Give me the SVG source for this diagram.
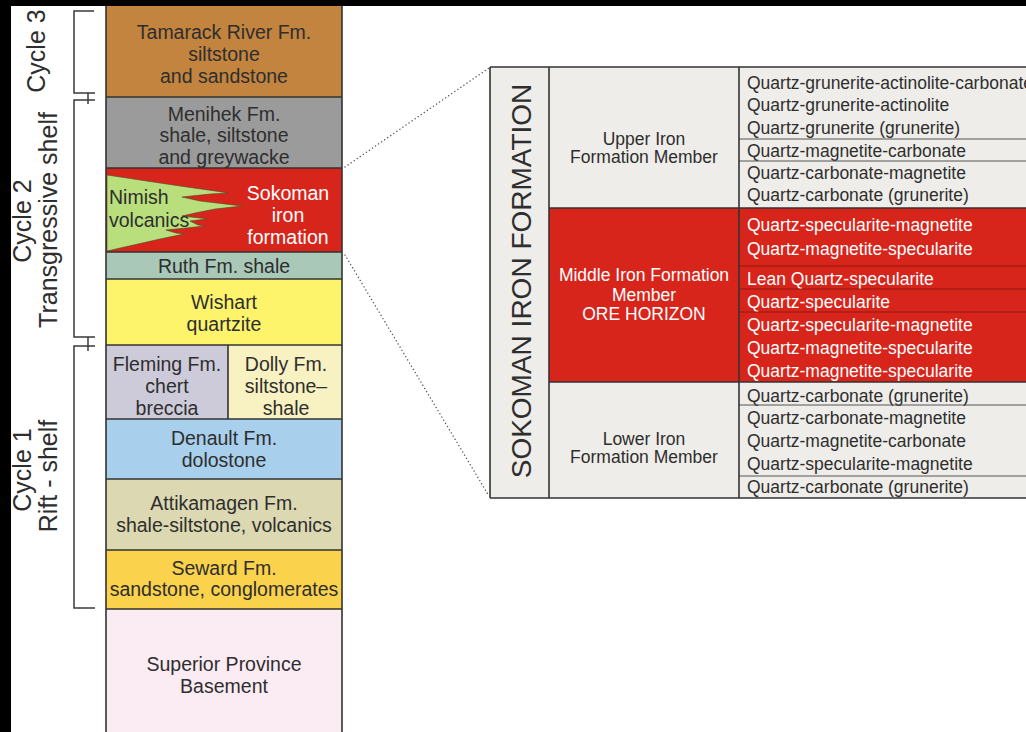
<svg xmlns="http://www.w3.org/2000/svg" width="1026" height="732" viewBox="0 0 1026 732">
  <defs>
    <style>
      text { font-family: "Liberation Sans", Arial, sans-serif; }
      .col { font-size: 19.5px; fill: #2e2e2e; text-anchor: middle; }
      .colw { font-size: 19.5px; fill: #ffffff; text-anchor: middle; }
      .coll { font-size: 19.5px; fill: #2e2e2e; text-anchor: start; }
      .cyc { font-size: 25px; fill: #2e2e2e; text-anchor: middle; }
      .row { font-size: 17.5px; fill: #2e2e2e; }
      .roww { font-size: 17.5px; fill: #ffffff; }
      .mem { font-size: 17.5px; fill: #2e2e2e; text-anchor: middle; }
      .memw { font-size: 17.5px; fill: #ffffff; text-anchor: middle; }
      .title { font-size: 28px; fill: #2e2e2e; text-anchor: middle; }
      .edge { stroke: #333333; stroke-width: 1.6; fill: none; }
      .thin { stroke: #555555; stroke-width: 1; fill: none; }
      .thinr { stroke: #8e1a12; stroke-width: 1; fill: none; }
      .brk { stroke: #3a3a3a; stroke-width: 1.5; fill: none; }
      .dot { stroke: #555555; stroke-width: 1.4; stroke-dasharray: 0.1 3.6; stroke-linecap: round; fill: none; }
    </style>
  </defs>

  <!-- page -->
  <rect x="0" y="0" width="1026" height="732" fill="#ffffff"/>
  <rect x="0" y="0" width="1026" height="6" fill="#000000"/>
  <rect x="0" y="0" width="11" height="732" fill="#000000"/>

  <!-- cycle brackets and labels -->
  <g id="brackets">
    <path class="brk" d="M94,11 H74 V93 H95"/>
    <path class="brk" d="M95,100 H74 V337 H95"/>
    <path class="brk" d="M95,346 H74 V608 H95"/>
    <path class="brk" d="M88,93 V104"/>
    <path class="brk" d="M88,337 V351"/>
  </g>
  <g id="cycle3">
    <text class="cyc" transform="translate(45,51) rotate(-90)">Cycle 3</text>
  </g>
  <g id="cycle2">
    <text class="cyc" transform="translate(31,221) rotate(-90)">Cycle 2</text>
    <text class="cyc" transform="translate(57,220) rotate(-90)">Transgressive shelf</text>
  </g>
  <g id="cycle1">
    <text class="cyc" transform="translate(31,470) rotate(-90)">Cycle 1</text>
    <text class="cyc" transform="translate(57,476) rotate(-90)">Rift - shelf</text>
  </g>

  <!-- stratigraphic column -->
  <g id="tamarack">
    <rect x="106" y="6" width="236" height="91" fill="#c2843f"/>
    <text class="col" x="224" y="39">Tamarack River Fm.</text>
    <text class="col" x="224" y="61">siltstone</text>
    <text class="col" x="224" y="83">and sandstone</text>
  </g>
  <g id="menihek">
    <rect x="106" y="97" width="236" height="71" fill="#9b9b9b"/>
    <text class="col" x="224" y="121">Menihek Fm.</text>
    <text class="col" x="224" y="142">shale, siltstone</text>
    <text class="col" x="224" y="164">and greywacke</text>
  </g>
  <g id="sokoman">
    <rect x="106" y="168" width="236" height="84" fill="#d8251c"/>
    <text class="colw" x="288" y="200">Sokoman</text>
    <text class="colw" x="288" y="222">iron</text>
    <text class="colw" x="288" y="244">formation</text>
  </g>
  <g id="nimish">
    <path fill="#b9df7c" stroke="#4a4a2a" stroke-width="0.6" d="M107,175 L140,180 L180,186 L215,191 L228,193 L210,194 L182,197 L200,201 L225,204 L242,206 L215,209 L195,213 L182,216 L200,218 L207,219 L190,221 L198,225 L205,226 L186,228 L166,230 L176,233 L184,234 L160,239 L107,251 Z"/>
    <text class="coll" x="109" y="204">Nimish</text>
    <text class="coll" x="109" y="227">volcanics</text>
  </g>
  <g id="ruth">
    <rect x="106" y="252" width="236" height="27" fill="#a9c8b8"/>
    <text class="col" x="224" y="273">Ruth Fm. shale</text>
  </g>
  <g id="wishart">
    <rect x="106" y="279" width="236" height="66" fill="#fdf46c"/>
    <text class="col" x="224" y="309">Wishart</text>
    <text class="col" x="224" y="331">quartzite</text>
  </g>
  <g id="fleming">
    <rect x="106" y="345" width="122" height="74" fill="#cdcbd9"/>
    <text class="col" x="167" y="371">Fleming Fm.</text>
    <text class="col" x="167" y="393">chert</text>
    <text class="col" x="167" y="415">breccia</text>
  </g>
  <g id="dolly">
    <rect x="228" y="345" width="114" height="74" fill="#f8f1c2"/>
    <text class="col" x="286" y="371">Dolly Fm.</text>
    <text class="col" x="286" y="393">siltstone–</text>
    <text class="col" x="286" y="415">shale</text>
  </g>
  <g id="denault">
    <rect x="106" y="419" width="236" height="60" fill="#a8cfec"/>
    <text class="col" x="224" y="445">Denault Fm.</text>
    <text class="col" x="224" y="467">dolostone</text>
  </g>
  <g id="attikamagen">
    <rect x="106" y="479" width="236" height="71" fill="#dcd9b2"/>
    <text class="col" x="224" y="510">Attikamagen Fm.</text>
    <text class="col" x="224" y="532">shale-siltstone, volcanics</text>
  </g>
  <g id="seward">
    <rect x="106" y="550" width="236" height="59" fill="#fbd24c"/>
    <text class="col" x="224" y="575">Seward Fm.</text>
    <text class="col" x="224" y="596">sandstone, conglomerates</text>
  </g>
  <g id="superior">
    <rect x="106" y="609" width="236" height="130" fill="#fbebf3"/>
    <text class="col" x="224" y="671">Superior Province</text>
    <text class="col" x="224" y="693">Basement</text>
  </g>
  <g id="column-lines">
    <path class="edge" d="M106,6 V740 M342,6 V740 M106,97 H342 M106,168 H342 M106,252 H342 M106,279 H342 M106,345 H342 M228,345 V419 M106,419 H342 M106,479 H342 M106,550 H342 M106,609 H342"/>
  </g>

  <!-- dotted connectors from the Sokoman interval to the detail table -->
  <g id="connectors">
    <line class="dot" x1="345" y1="167" x2="489" y2="68"/>
    <line class="dot" x1="345" y1="255" x2="489" y2="496"/>
  </g>

  <!-- Sokoman Iron Formation detail table -->
  <g id="table-frame">
    <rect x="490" y="67" width="560" height="431" fill="#eeede9"/>
    <rect x="549" y="208" width="500" height="174" fill="#d8251c"/>
  </g>
  <g id="title">
    <text class="title" transform="translate(531,281) rotate(-90)">SOKOMAN IRON FORMATION</text>
  </g>
  <g id="upper-member">
    <text class="mem" x="644" y="145">Upper Iron</text>
    <text class="mem" x="644" y="163">Formation Member</text>
    <text class="row" x="747" y="89">Quartz-grunerite-actinolite-carbonate</text>
    <text class="row" x="747" y="111">Quartz-grunerite-actinolite</text>
    <text class="row" x="747" y="134">Quartz-grunerite (grunerite)</text>
    <text class="row" x="747" y="157">Quartz-magnetite-carbonate</text>
    <text class="row" x="747" y="179">Quartz-carbonate-magnetite</text>
    <text class="row" x="747" y="201">Quartz-carbonate (grunerite)</text>
  </g>
  <g id="middle-member">
    <text class="memw" x="644" y="281">Middle Iron Formation</text>
    <text class="memw" x="644" y="301">Member</text>
    <text class="memw" x="644" y="320">ORE HORIZON</text>
    <text class="roww" x="747" y="231">Quartz-specularite-magnetite</text>
    <text class="roww" x="747" y="255">Quartz-magnetite-specularite</text>
    <text class="roww" x="747" y="285">Lean Quartz-specularite</text>
    <text class="roww" x="747" y="308">Quartz-specularite</text>
    <text class="roww" x="747" y="331">Quartz-specularite-magnetite</text>
    <text class="roww" x="747" y="354">Quartz-magnetite-specularite</text>
    <text class="roww" x="747" y="377">Quartz-magnetite-specularite</text>
  </g>
  <g id="lower-member">
    <text class="mem" x="644" y="445">Lower Iron</text>
    <text class="mem" x="644" y="463">Formation Member</text>
    <text class="row" x="747" y="402">Quartz-carbonate (grunerite)</text>
    <text class="row" x="747" y="424">Quartz-carbonate-magnetite</text>
    <text class="row" x="747" y="447">Quartz-magnetite-carbonate</text>
    <text class="row" x="747" y="470">Quartz-specularite-magnetite</text>
    <text class="row" x="747" y="493">Quartz-carbonate (grunerite)</text>
  </g>
  <g id="table-lines">
    <path class="thin" d="M739,139 H1040 M739,161 H1040 M739,405 H1040 M739,476 H1040"/>
    <path class="thinr" d="M739,266 H1040 M739,289 H1040 M739,312 H1040"/>
    <path class="edge" d="M490,67 H1040 M490,498 H1040 M490,67 V498 M549,67 V498 M739,67 V498 M549,208 H1040 M549,382 H1040"/>
  </g>
</svg>
